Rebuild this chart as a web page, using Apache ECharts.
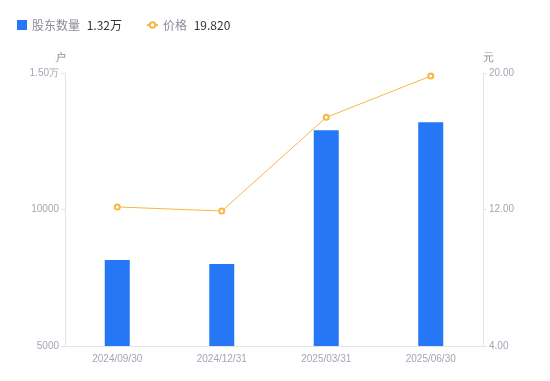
<!DOCTYPE html>
<html>
<head>
<meta charset="utf-8">
<script src="https://cdn.jsdelivr.net/npm/echarts@6/dist/echarts.min.js"></script>
<style>
  html, body { margin: 0; padding: 0; background: #fff; }
  #main { width: 550px; height: 381px; }
</style>
</head>
<body>
<div id="main"></div>
<script>
var dates = ['2024/09/30', '2024/12/31', '2025/03/31', '2025/06/30'];
var holders = [8150, 8000, 12900, 13200];
var prices = [12.15, 11.91, 17.40, 19.82];
var legendVals = {'股东数量': '1.32万', '价格': '19.820'};

var chart = echarts.init(document.getElementById('main'));
var labelColor = '#a3a6b4';
var lineColor = '#e3e4e9';

function legendFmt(name) {
  return '{n|' + name + '}  {v|' + legendVals[name] + '}';
}
var legendText = {
  rich: {
    n: {color: '#8a8d99', fontSize: 12, fontFamily: 'Noto Sans CJK SC'},
    v: {color: '#333', fontSize: 12, fontFamily: 'Noto Sans CJK SC'}
  }
};

var option = {
  animation: false,
  legend: [
    {
      left: 12,
      top: 14,
      itemWidth: 10,
      itemHeight: 10,
      data: [{name: '股东数量', icon: 'rect'}],
      formatter: legendFmt,
      textStyle: legendText
    },
    {
      left: 141,
      top: 14,
      itemWidth: 11,
      itemHeight: 7,
      data: ['价格'],
      formatter: legendFmt,
      textStyle: legendText
    }
  ],
  grid: {left: 65, right: 67, top: 73, bottom: 35},
  xAxis: {
    type: 'category',
    data: dates,
    axisLine: {lineStyle: {color: lineColor}},
    axisTick: {show: false},
    axisLabel: {color: labelColor, fontSize: 10, margin: 8}
  },
  yAxis: [
    {
      type: 'value',
      name: '户',
      min: 5000,
      max: 15000,
      interval: 5000,
      nameTextStyle: {color: '#8a8d99', fontSize: 11, padding: [0, 10, 0, 0]},
      nameGap: 10,
      axisLine: {show: true, lineStyle: {color: lineColor}},
      axisTick: {show: true, length: 4, lineStyle: {color: lineColor}},
      splitLine: {show: false},
      axisLabel: {
        color: labelColor, fontSize: 10, margin: 6,
        formatter: function (v) {
          return v >= 10000 && v % 10000 !== 0 ? (v / 10000).toFixed(2) + '万' : v;
        }
      }
    },
    {
      type: 'value',
      name: '元',
      min: 4,
      max: 20,
      interval: 8,
      nameTextStyle: {color: '#8a8d99', fontSize: 11, padding: [0, 0, 0, 10]},
      nameGap: 10,
      axisLine: {show: true, lineStyle: {color: lineColor}},
      axisTick: {show: true, length: 4, lineStyle: {color: lineColor}},
      splitLine: {show: false},
      axisLabel: {
        color: labelColor, fontSize: 10, margin: 6,
        formatter: function (v) { return v.toFixed(2); }
      }
    }
  ],
  series: [
    {
      name: '股东数量',
      type: 'bar',
      data: holders,
      barWidth: 25,
      itemStyle: {color: '#2577f6'}
    },
    {
      name: '价格',
      type: 'line',
      yAxisIndex: 1,
      data: prices,
      symbol: 'emptyCircle',
      symbolSize: 5,
      lineStyle: {color: '#f7b844', width: 1},
      itemStyle: {color: '#f7b844', borderWidth: 2}
    }
  ]
};
chart.setOption(option);
</script>
</body>
</html>
